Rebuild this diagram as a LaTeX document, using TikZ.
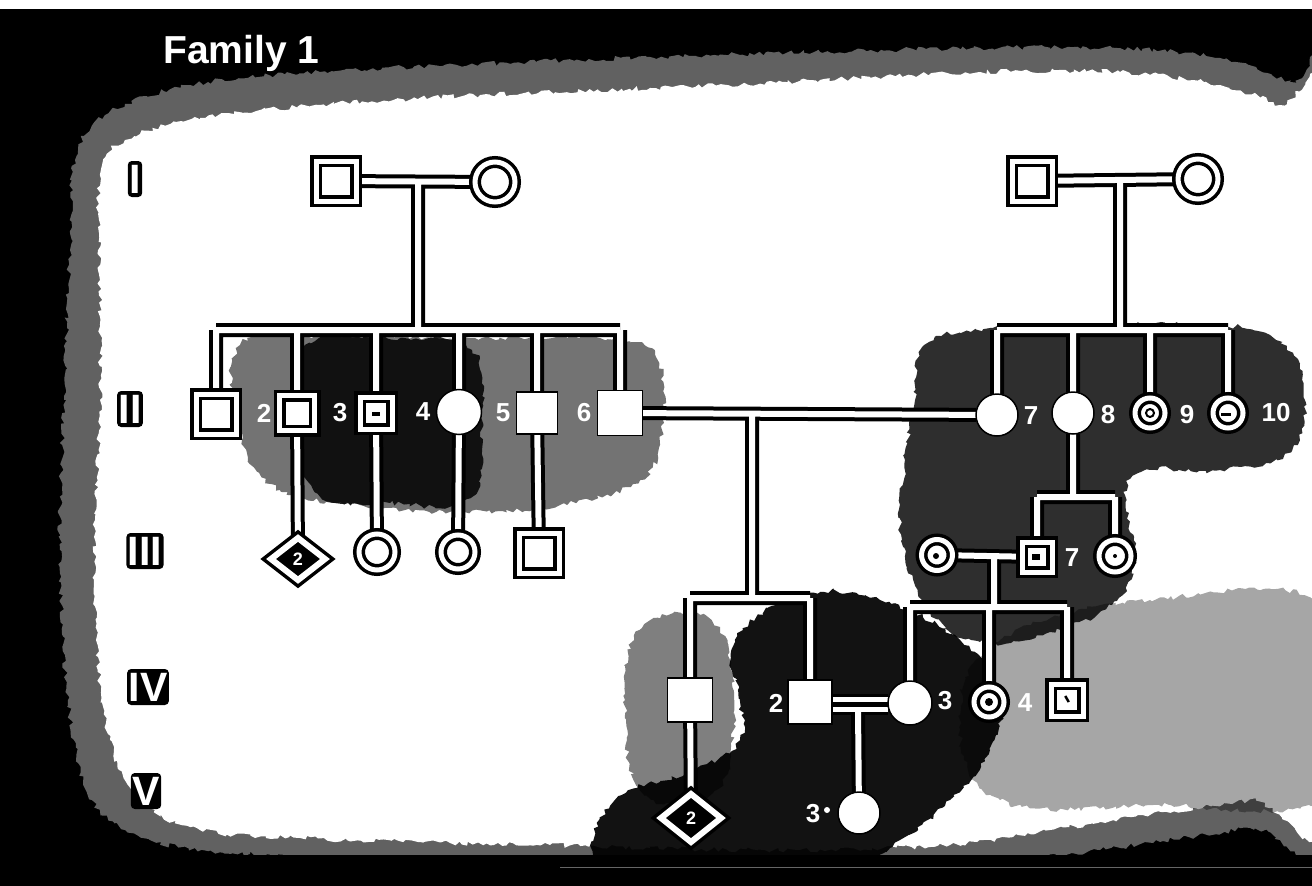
\documentclass[tikz,border=0pt]{standalone}
\usepackage{fontspec}
\setmainfont{Liberation Sans}
\usetikzlibrary{shapes.geometric,calc,decorations.pathmorphing}
\pgfdeclarelayer{bg}
\pgfdeclarelayer{lines}
\pgfsetlayers{bg,lines,main}
\begin{document}
\begin{tikzpicture}[x=1pt,y=-1pt,
  sym/.style={inner sep=0pt,outer sep=0pt},
  un/.style={sym,draw=black,line width=3.5pt,double=white,double distance=5pt,fill=white,minimum size=36pt},
  usq/.style={un,rectangle},
  uci/.style={un,circle},
  af/.style={sym,draw=black,line width=1.5pt,fill=white},
  asq/.style={af,rectangle,minimum width=43pt,minimum height=43pt},
  aci/.style={af,circle,minimum size=43pt},
  dia/.style={sym,diamond,draw=black,line width=3.5pt,double=white,double distance=6pt,fill=black,minimum width=54pt,minimum height=42pt,text=white,font=\bfseries\fontsize{18}{18}\selectfont},
  lab/.style={inner sep=0pt,text=white,font=\bfseries\fontsize{26}{26}\selectfont},
  genl/.style={fill=black,text=white,rounded corners=4pt,inner xsep=1.5pt,inner ysep=3.5pt,
     text height=29pt,text depth=0pt,font=\bfseries\fontsize{41}{41}\selectfont},
  cdot/.style={circle,fill=black,inner sep=0pt,minimum size=8pt},
  conn/.style={draw=black,line width=14pt,postaction={draw=white,line width=6pt}},
  rough/.style={decorate,decoration={random steps,segment length=4pt,amplitude=2.5pt}},
]
\useasboundingbox (0,0) rectangle (1312,886);

% ---------- symbols ----------
% generation I
\node[usq,minimum size=40pt] (I1) at (336,181) {};
\node[uci,minimum size=40pt] (I2) at (495,182) {};
\node[usq,minimum size=40pt] (Ir1) at (1032,181) {};
\node[uci,minimum size=40pt] (Ir2) at (1198,179) {};
% generation II
\node[usq,minimum size=40pt] (II1) at (216,414) {};
\node[usq,minimum size=35pt] (II2) at (297,413) {};
\node[usq,minimum size=32pt] (II3) at (376,413) {};
\node[aci,minimum size=45pt] (II4) at (459,412) {};
\node[asq,minimum width=41pt,minimum height=42pt] (II5) at (537,413) {};
\node[asq,minimum size=45pt] (II6) at (620,413) {};
\node[aci,minimum size=42pt] (II7) at (997,415) {};
\node[aci,minimum size=42pt] (II8) at (1073,413) {};
\node[uci,minimum size=30pt] (II9) at (1150,413) {};
\node[uci,minimum size=30pt] (II10) at (1228,413) {};
% generation III
\node[dia] (III1) at (298,559) {2};
\node[uci,minimum size=36pt] (III2) at (377,552) {};
\node[uci,minimum size=34pt] (III3) at (458,552) {};
\node[usq,minimum size=40pt] (III4) at (539,553) {};
\node[uci,minimum size=31pt] (III6) at (937,555) {};
\node[usq,minimum size=30pt] (III7) at (1037,557) {};
\node[uci,minimum size=32pt] (III8) at (1115,556) {};
% generation IV
\node[asq,minimum width=45pt,minimum height=44pt] (IV1) at (690,700) {};
\node[asq,minimum size=44pt] (IV2) at (810,702) {};
\node[aci,minimum size=44pt] (IV3) at (910,703) {};
\node[uci,minimum size=30pt] (IV4) at (989,702) {};
\node[usq,minimum size=32pt] (IV5) at (1067,700) {};
% generation V
\node[dia,minimum width=60pt,minimum height=48pt] (V2) at (691,818) {2};
\node[aci,minimum size=42pt] (V3) at (859,813) {};

% small marks inside symbols
\node[cdot] (IV4dot) at (IV4) {};
\node[circle,draw=black,line width=2pt,inner sep=0pt,minimum size=8pt] (II9mark) at (II9) {};
\node[rectangle,fill=black,inner sep=0pt,minimum width=10pt,minimum height=3pt] (II10mark) at (1226,414) {};
\node[cdot,minimum size=4pt] (III8dot) at (III8) {};
\node[cdot,minimum size=6pt] (III6dot) at (936,556) {};
\node[rectangle,fill=black,inner sep=0pt,minimum width=8pt,minimum height=6pt] (III7mark) at (1036,557) {};
\node[rectangle,fill=black,inner sep=0pt,minimum width=2.5pt,minimum height=7pt,rotate=30] (IV5mark) at (1067,699) {};
\node[rectangle,fill=black,inner sep=0pt,minimum width=8pt,minimum height=4pt] (II3mark) at (376,414) {};

% ---------- labels ----------
\node[anchor=base west,inner sep=0pt,text=white,font=\bfseries\fontsize{39}{39}\selectfont] (title) at (163,63) {Family 1};
\node[genl] (gI) at (135,179) {I};
\node[genl] (gII) at (130,409) {II};
\node[genl] (gIII) at (145,551) {III};
\node[genl] (gIV) at (148,687) {IV};
\node[genl] (gV) at (146,791) {V};
\node[lab] (l2) at (264,413) {2};
\node[lab] (l3) at (340,413) {3};
\node[lab] (l4) at (423,412) {4};
\node[lab] (l5) at (503,413) {5};
\node[lab] (l6) at (584,413) {6};
\node[lab] (l7) at (1031,416) {7};
\node[lab] (l8) at (1108,415) {8};
\node[lab] (l9) at (1187,415) {9};
\node[lab] (l10) at (1276,413) {10};
\node[lab,font=\bfseries\fontsize{16}{16}\selectfont] (l3b) at (343,551) {3};
\node[lab] (l7b) at (1072,558) {7};
\node[lab] (l2c) at (776,703) {2};
\node[lab] (l3c) at (945,701) {3};
\node[lab] (l4c) at (1025,703) {4};
\node[lab] (l3d) at (813,814) {3};
\node[circle,fill=white,inner sep=0pt,minimum size=6pt] (l3dot) at (827,810) {};

% ---------- connectors ----------
\coordinate (m1) at (418,181);
\coordinate (s1) at (418,330);
\coordinate (m2) at (1120,180);
\coordinate (s2) at (1120,330);
\coordinate (m3) at (752,413);
\coordinate (s3) at (752,598);
\coordinate (s4) at (1073,497);
\coordinate (m5) at (994,555);
\coordinate (s5) at (994,607);
\coordinate (c4) at (858,704.5);
\coordinate (ca) at (858,699.5);
\coordinate (cb) at (858,709);
\begin{pgfonlayer}{lines}
\path[conn]
  (I1) -- (I2)
  (Ir1) -- (Ir2)
  (m1) -- (s1)
  (m2) -- (s2)
  (II1 |- s1) -- (II6 |- s1)
  (II1 |- s1) -- (II1)
  (II2 |- s1) -- (II2)
  (II3 |- s1) -- (II3)
  (II4 |- s1) -- (II4)
  (II5 |- s1) -- (II5)
  (II6 |- s1) -- (II6)
  (II7 |- s2) -- (II10 |- s2)
  (II7 |- s2) -- (II7)
  (II8 |- s2) -- (II8)
  (II9 |- s2) -- (II9)
  (II10 |- s2) -- (II10)
  (II2) -- (III1)
  (II3) -- (III2)
  (II4) -- (III3)
  (II5) -- (III4)
  (II6) -- (II7)
  (m3) -- (s3)
  (IV1 |- s3) -- (IV2 |- s3)
  (IV1 |- s3) -- (IV1)
  (IV2 |- s3) -- (IV2)
  (II8) -- (s4)
  (III7 |- s4) -- (III8 |- s4)
  (III7 |- s4) -- (III7)
  (III8 |- s4) -- (III8)
  (III6) -- (III7)
  (m5) -- (s5)
  (IV3 |- s5) -- (IV5 |- s5)
  (IV3 |- s5) -- (IV3)
  (IV4 |- s5) -- (IV4)
  (IV5 |- s5) -- (IV5)
  (IV1) -- (V2);
% consanguineous double marriage line
\draw[black,line width=21pt] (IV2.east |- c4) -- (IV3.west |- c4);
\draw[black,line width=14pt] (cb) -- (V3);
\draw[white,line width=5pt] (IV2.east |- ca) -- (IV3.west |- ca);
\draw[white,line width=5pt] (IV2.east |- cb) -- (IV3.west |- cb);
\draw[white,line width=6pt] (cb) -- (V3);
\end{pgfonlayer}

% ---------- background ----------
\begin{pgfonlayer}{bg}
\fill[black] (-5,-5) rectangle (1320,892);
\fill[black!62,rough] plot[smooth cycle,tension=0.6] coordinates {
  (75,160) (105,115) (190,85) (320,72) (480,64) (650,57) (820,52) (980,48)
  (1120,48) (1220,58) (1290,82) (1340,98) (1345,815) (1250,828) (1100,850)
  (950,868) (800,872) (560,866) (420,860) (250,854) (150,840) (92,800)
  (68,700) (60,550) (64,400) (70,250)};
\fill[white,rough] plot[smooth cycle,tension=0.6] coordinates {
  (100,175) (125,140) (200,118) (320,105) (480,95) (650,88) (820,80) (980,72)
  (1120,72) (1220,85) (1280,105) (1335,125) (1340,790) (1250,800) (1150,815)
  (1050,830) (950,845) (800,850) (650,848) (550,845) (420,842) (300,838)
  (200,830) (140,800) (110,740) (96,640) (95,520) (100,400) (100,280)};
% noisy darker patches
\fill[black,opacity=0.55,rough] plot[smooth cycle,tension=0.7] coordinates {
  (240,345) (330,336) (470,338) (600,338) (655,355) (662,430) (640,480)
  (560,505) (460,512) (360,505) (280,490) (242,440)};
\fill[black,opacity=0.85,rough] plot[smooth cycle,tension=0.7] coordinates {
  (305,345) (400,338) (472,350) (482,420) (470,498) (390,503) (315,492) (300,420)};
\fill[black,opacity=0.35,rough] plot[smooth cycle,tension=0.7] coordinates {
  (1000,640) (1150,600) (1330,610) (1335,790) (1150,805) (1000,800) (960,720)};
\fill[black,opacity=0.82,rough] plot[smooth cycle,tension=0.7] coordinates {
  (925,345) (990,328) (1100,325) (1200,325) (1270,335) (1302,380) (1292,450)
  (1220,470) (1150,470) (1125,495) (1135,560) (1112,605) (1050,632) (980,642)
  (930,612) (902,540) (905,460) (915,400)};
\fill[black,opacity=0.5,rough] plot[smooth cycle,tension=0.7] coordinates {
  (640,630) (700,615) (730,660) (730,760) (700,800) (640,790) (625,700)};
\fill[black,opacity=0.93,rough] plot[smooth cycle,tension=0.7] coordinates {
  (735,640) (800,595) (880,600) (960,640) (1000,690) (990,750) (950,800)
  (900,840) (820,885) (700,885) (600,865) (615,800) (690,772) (740,740) (738,690)};
\fill[black] (-5,855) rectangle (1320,892);
\fill[white] (-5,-5) rectangle (1320,9);
\draw[black!60,line width=1pt] (560,867) -- (1320,867);
\end{pgfonlayer}
\end{tikzpicture}
\end{document}
